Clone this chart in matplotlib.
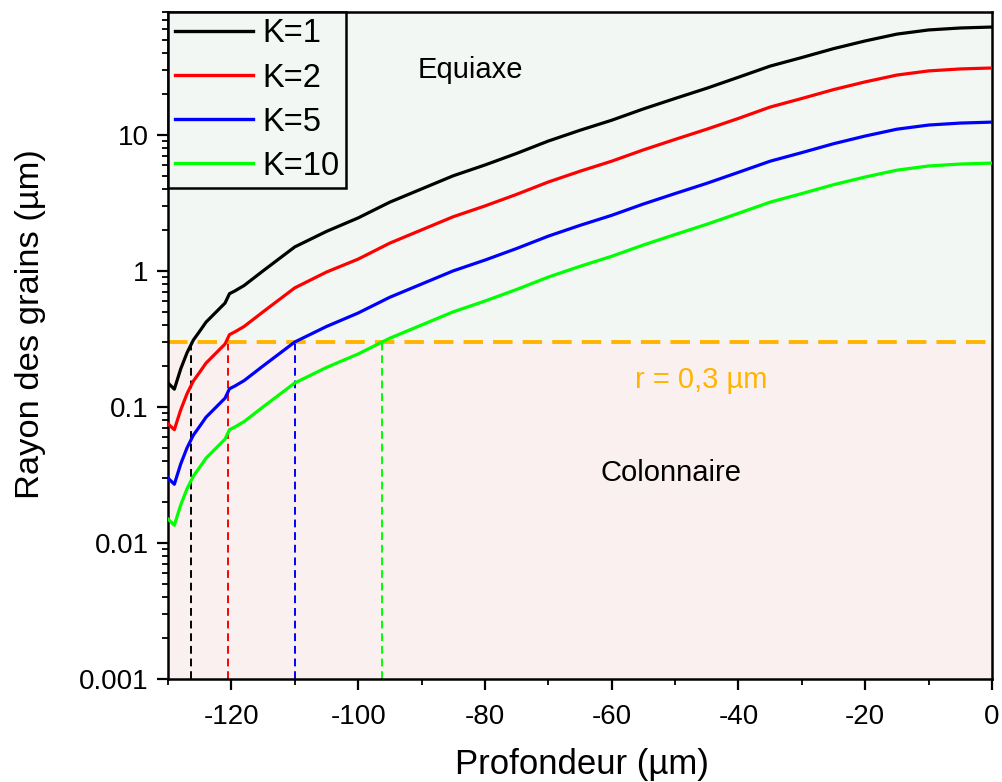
import matplotlib
matplotlib.use("Agg")
import matplotlib.pyplot as plt
from matplotlib.ticker import LogLocator, FixedLocator, FuncFormatter, NullFormatter

plt.rcParams['font.family'] = ['Liberation Sans', 'DejaVu Sans']

depth = [-130, -129, -128, -127, -126, -125, -124, -121, -120.3, -119.5, -118, -115,
         -110, -105, -100, -95, -90, -85, -80, -75, -70, -65, -60, -55, -50, -45,
         -40, -35, -30, -25, -20, -15, -10, -5, 0]
r_k1 = [0.15, 0.135, 0.19, 0.25, 0.31, 0.36, 0.42, 0.58, 0.68, 0.71, 0.78, 1.0,
        1.5, 1.95, 2.45, 3.2, 4.0, 5.0, 6.0, 7.3, 9.0, 10.8, 12.8, 15.5, 18.5, 22,
        26.5, 32, 37, 43, 49, 55, 59, 61, 62]
r_k2 = [0.075, 0.068, 0.095, 0.125, 0.155, 0.18, 0.21, 0.29, 0.34, 0.355, 0.39, 0.5,
        0.75, 0.98, 1.22, 1.6, 2.0, 2.5, 3.0, 3.65, 4.5, 5.4, 6.4, 7.75, 9.25, 11,
        13.2, 16, 18.5, 21.5, 24.5, 27.5, 29.5, 30.5, 31]
r_k5 = [0.03, 0.027, 0.038, 0.05, 0.062, 0.072, 0.084, 0.116, 0.136, 0.142, 0.156, 0.2,
        0.3, 0.39, 0.49, 0.64, 0.8, 1.0, 1.2, 1.46, 1.8, 2.16, 2.56, 3.1, 3.7, 4.4,
        5.3, 6.4, 7.4, 8.6, 9.8, 11, 11.8, 12.2, 12.4]
r_k10 = [0.015, 0.0135, 0.019, 0.025, 0.031, 0.036, 0.042, 0.058, 0.068, 0.071, 0.078, 0.1,
         0.15, 0.195, 0.245, 0.32, 0.4, 0.5, 0.6, 0.73, 0.9, 1.08, 1.28, 1.55, 1.85, 2.2,
         2.65, 3.2, 3.7, 4.3, 4.9, 5.5, 5.9, 6.1, 6.2]

labels = ['K=1', 'K=2', 'K=5', 'K=10']
colors = ['#000000', '#FF0000', '#0000FF', '#00FF00']
threshold = 0.3
cross_depth = [-126.3, -120.6, -110.0, -96.2]

fig = plt.figure(figsize=(10.03, 7.82), dpi=100)
ax = fig.add_axes([0.1675, 0.1317, 0.8215, 0.853])

xmin, xmax = -130, 0
ymin, ymax = 0.001, 80

ax.axhspan(threshold, ymax, color='#F2F7F4', zorder=0, lw=0)
ax.axhspan(ymin, threshold, color='#FBF0F0', zorder=0, lw=0)

for xv, c in zip(cross_depth, colors):
    ax.plot([xv, xv], [ymin, threshold], color=c, lw=1.4, ls=(0, (4, 2.5)), zorder=2)

ax.axhline(threshold, color='#FFB400', lw=2.8, ls=(0, (5, 2.6)), zorder=2)

for y, lab, c in zip([r_k1, r_k2, r_k5, r_k10], labels, colors):
    ax.plot(depth, y, color=c, lw=2.3, label=lab, zorder=3, solid_joinstyle='round')

ax.set_yscale('log')
ax.set_xlim(xmin, xmax)
ax.set_ylim(ymin, ymax)

ax.xaxis.set_major_locator(FixedLocator([-120, -100, -80, -60, -40, -20, 0]))
ax.xaxis.set_minor_locator(FixedLocator([-130, -110, -90, -70, -50, -30, -10]))
ax.xaxis.set_major_formatter(FuncFormatter(lambda v, p: '%d' % v))
ax.yaxis.set_major_locator(FixedLocator([0.001, 0.01, 0.1, 1, 10]))
ax.yaxis.set_major_formatter(FuncFormatter(lambda v, p: ('%g' % v)))
ax.yaxis.set_minor_locator(LogLocator(base=10, subs=range(2, 10), numticks=20))
ax.yaxis.set_minor_formatter(NullFormatter())

ax.tick_params(axis='both', which='major', direction='out', length=8, width=1.6,
               labelsize=20, top=False, right=False, pad=6)
ax.tick_params(axis='x', which='major', pad=10)
ax.tick_params(axis='both', which='minor', direction='out', length=4.5, width=1.3,
               top=False, right=False)
for s in ax.spines.values():
    s.set_linewidth(1.8)

ax.set_xlabel('Profondeur (µm)', fontsize=25)
ax.set_ylabel('Rayon des grains (µm)', fontsize=24.8)
ax.xaxis.set_label_coords(0.5024, -0.104)
ax.yaxis.set_label_coords(-0.148, 0.532)

ax.text(-82.3, 30, 'Equiaxe', fontsize=21, ha='center', va='center')
ax.text(-45.8, 0.158, 'r = 0,3 µm', fontsize=21, ha='center', va='center', color='#FFB400')
ax.text(-50.6, 0.0327, 'Colonnaire', fontsize=21, ha='center', va='center')

leg = ax.legend(loc='upper left', fontsize=23.5, frameon=True, fancybox=False,
                borderaxespad=0, handlelength=2.4, handletextpad=0.3,
                labelspacing=0.4, borderpad=0.2, facecolor='#F2F7F4', framealpha=1)
leg.get_frame().set_edgecolor('black')
leg.get_frame().set_linewidth(1.8)
for h in leg.get_lines():
    h.set_linewidth(2.4)

fig.savefig('out.png', dpi=100)
